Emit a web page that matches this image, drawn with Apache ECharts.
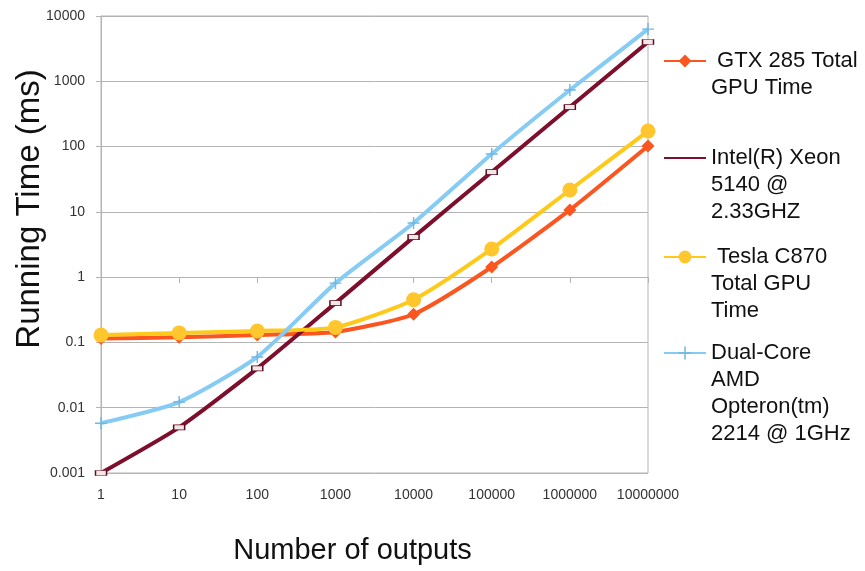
<!DOCTYPE html>
<html>
<head>
<meta charset="utf-8">
<script src="https://cdn.jsdelivr.net/npm/echarts@6/dist/echarts.min.js"></script>
<style>
  html, body { margin: 0; padding: 0; background: #fff; }
  #main { width: 865px; height: 571px; }
</style>
</head>
<body>
<div id="main"></div>
<script>
  // x categories (number of outputs)
  const outputs = ['1', '10', '100', '1000', '10000', '100000', '1000000', '10000000'];

  // running time in ms
  const gtx285 = [0.115, 0.12, 0.13, 0.145, 0.27, 1.43, 10.7, 102];
  const xeon = [0.001, 0.005, 0.04, 0.4, 4.1, 40.7, 403, 4000];
  const teslaC870 = [0.13, 0.14, 0.15, 0.17, 0.45, 2.7, 21.6, 173];
  const opteron = [0.0058, 0.0122, 0.06, 0.81, 6.75, 77, 735, 6300];

  const names = [
    ' GTX 285 Total\nGPU Time',
    'Intel(R) Xeon\n5140 @\n2.33GHZ',
    ' Tesla C870\nTotal GPU\nTime',
    'Dual-Core\nAMD\nOpteron(tm)\n2214 @ 1GHz'
  ];

  const font = 'Liberation Sans, Arial, sans-serif';
  const lh = 27;

  const chart = echarts.init(document.getElementById('main'), null, { renderer: 'canvas' });

  // one legend per series; blank leading lines put the first text line level with the icon
  const legendTops = [61, 158, 257, 353];
  const makeLegend = (name, i) => {
    const n = name.split('\n').length;
    const legend = {
      orient: 'vertical',
      left: 663,
      top: legendTops[i] - (2 * n - 1) * lh / 2,
      padding: 0,
      itemWidth: 42,
      itemHeight: 16,
      data: [name],
      formatter: s => ' \n'.repeat(n - 1) + s,
      textStyle: {
        fontFamily: font,
        fontSize: 22,
        lineHeight: lh,
        color: '#111'
      }
    };
    // the Xeon key shows a plain line
    if (i === 1) legend.itemStyle = { opacity: 0 };
    return legend;
  };

  const line = (name, data, color, extra) => Object.assign({
    name: name,
    type: 'line',
    data: data,
    smooth: 0.2,
    color: color,
    lineStyle: { width: 4, color: color }
  }, extra);

  const option = {
    animation: false,
    textStyle: { fontFamily: font },
    legend: names.map(makeLegend),
    grid: {
      left: 101, right: 217, top: 16, bottom: 98,
      outerBoundsMode: 'none',
      show: true, borderColor: '#b4b4b4', borderWidth: 1
    },
    xAxis: [
      {
        type: 'category',
        data: outputs,
        boundaryGap: false,
        axisLine: { show: false },
        axisTick: { show: false },
        axisLabel: { interval: 0, margin: 15, fontSize: 14, color: '#333', fontFamily: font },
        name: 'Number of outputs',
        nameLocation: 'middle',
        nameGap: 63,
        nameMoveOverlap: false,
        nameTextStyle: { fontSize: 29, color: '#111', fontFamily: font, padding: [0, 44, 0, 0] }
      },
      {
        // tick marks where the category axis crosses the value 1
        type: 'category',
        data: outputs,
        boundaryGap: false,
        position: 'bottom',
        offset: -196,
        axisLine: { show: false },
        axisTick: { show: true, length: 6, lineStyle: { color: '#b4b4b4' } },
        axisLabel: { show: false }
      }
    ],
    yAxis: {
      type: 'log',
      logBase: 10,
      min: 0.001,
      max: 10000,
      splitNumber: 7,
      axisLine: { show: true, lineStyle: { color: '#b4b4b4' } },
      axisTick: { show: true, length: 5, lineStyle: { color: '#b4b4b4' } },
      splitLine: { show: true, lineStyle: { color: '#b4b4b4' } },
      axisLabel: {
        margin: 16, fontSize: 14, color: '#333', fontFamily: font,
        formatter: v => v >= 1 ? String(Math.round(v)) : String(+v.toPrecision(1))
      },
      name: 'Running Time (ms)',
      nameLocation: 'middle',
      nameRotate: 90,
      nameGap: 55,
      nameMoveOverlap: false,
      nameTextStyle: { fontSize: 33, color: '#111', fontFamily: font, padding: [0, 0, 0, 71] }
    },
    series: [
      line(names[0], gtx285, '#fb5520', {
        symbol: 'diamond', symbolSize: 13,
        itemStyle: { color: '#fb5520' }
      }),
      line(names[1], xeon, '#7d0f2c', {
        symbol: 'rect', symbolSize: [11, 5],
        itemStyle: { color: '#f4e6e6', borderColor: '#5a0a20', borderWidth: 1 }
      }),
      line(names[2], teslaC870, '#ffc91a', {
        symbol: 'circle', symbolSize: 15,
        itemStyle: { color: '#ffc62e' }
      }),
      line(names[3], opteron, '#86cbf4', {
        symbol: 'path://M4.4,0h1.2v10h-1.2z M0,4.4h10v1.2h-10z', symbolSize: 12,
        itemStyle: { color: '#72b8e2' }
      })
    ]
  };

  chart.setOption(option);
</script>
</body>
</html>
